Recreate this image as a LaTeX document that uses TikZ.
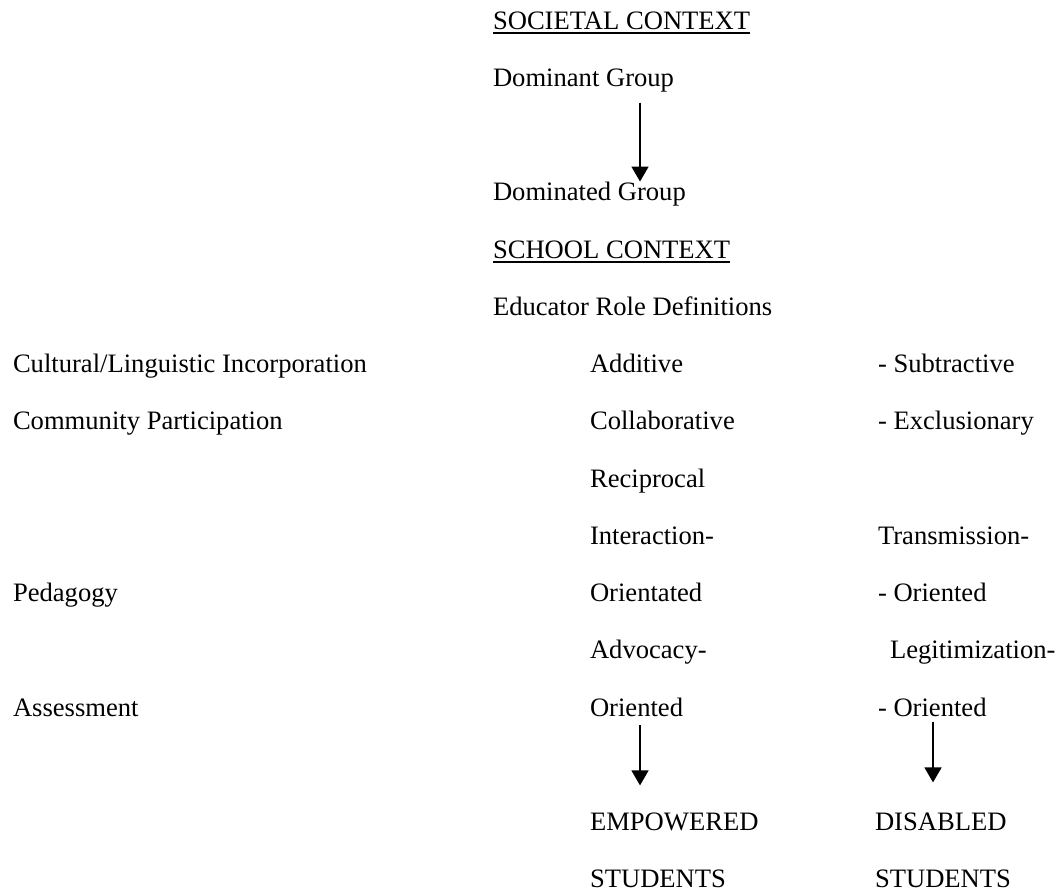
\documentclass[tikz,border=0pt]{standalone}
\usepackage{fontspec}
\setmainfont{Liberation Serif}
\usetikzlibrary{arrows.meta,calc}

\begin{document}
\begin{tikzpicture}[x=1pt,y=-1pt,
  lbl/.style={anchor=base west,inner sep=0pt,outer sep=0pt,
    font=\fontsize{26.6pt}{32pt}\selectfont},
  uline/.style={line width=2pt},
  flow/.style={line width=1.6pt,-{Triangle[width=17pt,length=15pt]}}]

\path[use as bounding box,fill=white] (0,0) rectangle (1064,892);

% societal context
\node[lbl] (soc) at (493,29) {SOCIETAL CONTEXT};
\node[lbl] (dom) at (493,86) {Dominant Group};
\node[lbl] (domd) at (493,200) {Dominated Group};

% school context
\node[lbl] (sch) at (493,258) {SCHOOL CONTEXT};
\node[lbl] (edu) at (493,315) {Educator Role Definitions};

% underlines of the two headings
\draw[uline] ($(soc.base west)+(0,3.5)$) -- ($(soc.base east)+(0,3.5)$);
\draw[uline] ($(sch.base west)+(0,3.5)$) -- ($(sch.base east)+(0,3.5)$);

% left column: dimensions
\node[lbl] (cul) at (13,372) {Cultural/Linguistic Incorporation};
\node[lbl] (com) at (13,429) {Community Participation};
\node[lbl] (ped) at (13,601) {Pedagogy};
\node[lbl] (ass) at (13,716) {Assessment};

% middle column: empowering pole
\node[lbl] (add) at (590,372) {Additive};
\node[lbl] (col) at (590,429) {Collaborative};
\node[lbl] (rec) at (590,487) {Reciprocal};
\node[lbl] (int) at (590,544) {Interaction-};
\node[lbl] (ori1) at (590,601) {Orientated};
\node[lbl] (adv) at (590,658) {Advocacy-};
\node[lbl] (ori2) at (590,716) {Oriented};
\node[lbl] (emp) at (590,830) {EMPOWERED};
\node[lbl] (stu1) at (590,887) {STUDENTS};

% right column: disabling pole
\node[lbl] (sub) at (878,372) {- Subtractive};
\node[lbl] (exc) at (878,429) {- Exclusionary};
\node[lbl] (tra) at (878,544) {Transmission-};
\node[lbl] (ori3) at (878,601) {- Oriented};
\node[lbl] (leg) at (890,658) {Legitimization-};
\node[lbl] (ori4) at (878,716) {- Oriented};
\node[lbl] (dis) at (875,830) {DISABLED};
\node[lbl] (stu2) at (875,887) {STUDENTS};

% arrow columns
\coordinate (ax1) at (640,0);
\coordinate (ax2) at (933,0);

% connectors
\draw[flow] ($(dom.south -| ax1)+(0,11)$) -- (domd.north -| ax1);
\draw[flow] ($(ori2.south -| ax1)+(0,9)$) -- ($(emp.north -| ax1)+(0,-27)$);
\draw[flow] ($(ori4.south -| ax2)+(0,6)$) -- ($(dis.north -| ax2)+(0,-30)$);

\end{tikzpicture}
\end{document}
